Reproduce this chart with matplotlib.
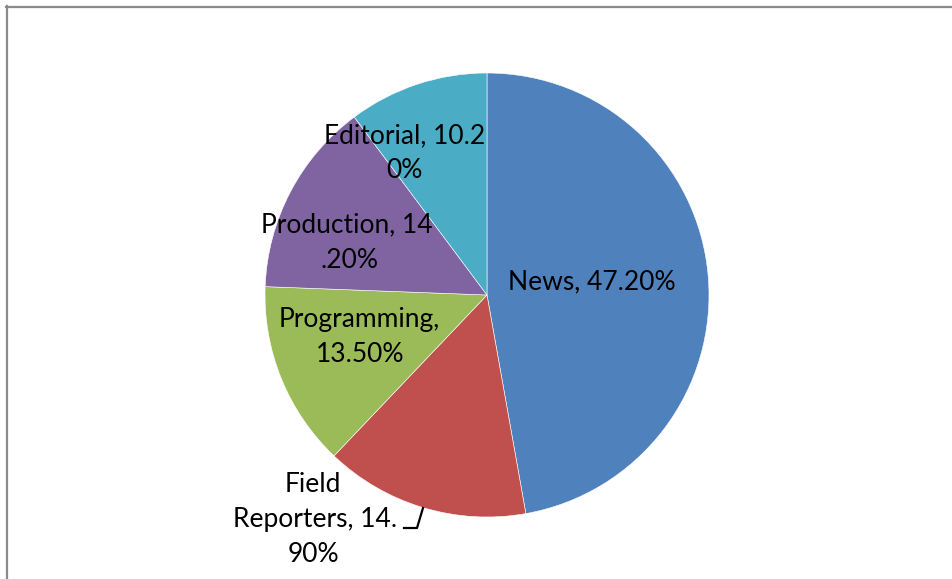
import matplotlib
matplotlib.use("Agg")
import matplotlib.pyplot as plt
from matplotlib.lines import Line2D

# Staff share by department
categories = ["News", "Field Reporters", "Programming", "Production", "Editorial"]
shares = [47.20, 14.90, 13.50, 14.20, 10.20]
# wrapped data labels, one list of lines per slice
label_lines = [
    ["News, 47.20%"],
    ["Field", "Reporters, 14.", "90%"],
    ["Programming,", "13.50%"],
    ["Production, 14", ".20%"],
    ["Editorial, 10.2", "0%"],
]
colors = ["#4F81BD", "#C0504D", "#9BBB59", "#8064A2", "#4BACC6"]

W, H = 953, 579
fig = plt.figure(figsize=(W / 100, H / 100), dpi=100)
ax = fig.add_axes([0, 0, 1, 1])

cx, cy, r = 487, H - 295, 222
ax.pie(shares, colors=colors, startangle=90, counterclock=False,
       center=(cx, cy), radius=r,
       wedgeprops=dict(edgecolor="white", linewidth=0.4))
ax.set_xlim(0, W)
ax.set_ylim(0, H)
ax.set_aspect("auto")
ax.axis("off")

# per-line label centres (pixel coords from the top-left)
line_pos = [
    [(592, 282)],
    [(313, 485), (315, 520), (313, 554)],
    [(359, 319), (360, 354)],
    [(347, 225), (350, 260)],
    [(405, 136), (404, 171)],
]
for lines, spots in zip(label_lines, line_pos):
    for txt, (x, y) in zip(lines, spots):
        ax.text(x, H - y, txt, ha="center", va="center", fontsize=19,
                family="Lato", color="black")

# leader line for the Field Reporters label
ax.add_line(Line2D([404, 417, 423], [H - 528, H - 528, H - 508],
                   color="black", linewidth=1.6))

# chart area frame (top and left edges)
frame = "#8A8A8A"
fig.add_artist(Line2D([6 / W, 1], [1 - 7 / H, 1 - 7 / H], transform=fig.transFigure,
                      color=frame, linewidth=1.6))
fig.add_artist(Line2D([7 / W, 7 / W], [1 - 6 / H, 0], transform=fig.transFigure,
                      color=frame, linewidth=1.6))

fig.savefig("out.png", dpi=100)
